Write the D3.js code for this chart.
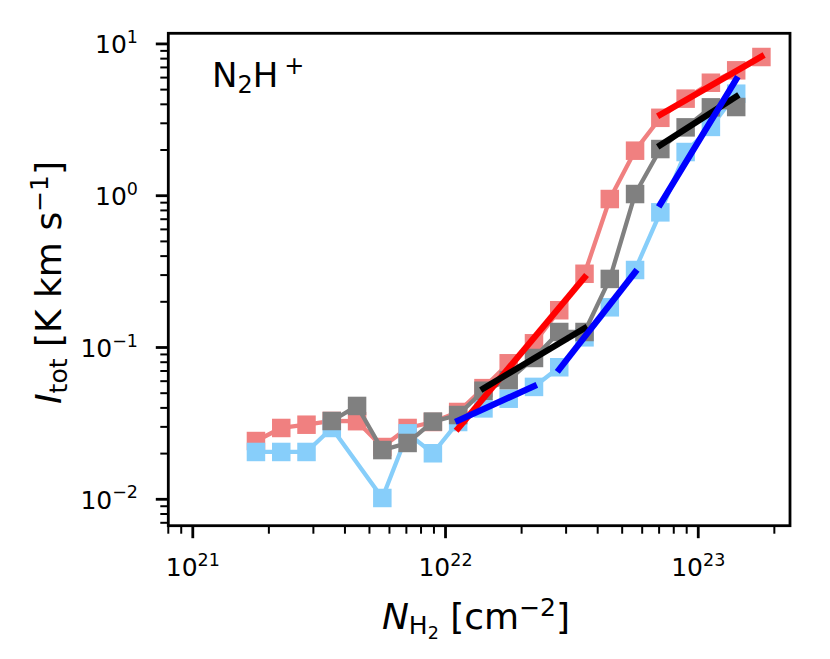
<!DOCTYPE html>
<html>
<head>
<meta charset="utf-8">
<script src="https://cdn.jsdelivr.net/npm/d3@7"></script>
<style>
  body { margin: 0; background: #fff; }
  text { font-family: "DejaVu Sans", sans-serif; fill: #000; }
</style>
</head>
<body>
<svg id="chart" width="830" height="659"></svg>
<script>
// column density bins [cm^-2]
var nH2 = [1.778e21, 2.239e21, 2.818e21, 3.548e21, 4.467e21, 5.623e21, 7.079e21,
           8.913e21, 1.122e22, 1.413e22, 1.778e22, 2.239e22, 2.818e22, 3.548e22,
           4.467e22, 5.623e22, 7.079e22, 8.913e22, 1.122e23, 1.413e23, 1.778e23];

// integrated intensity [K km/s], null = no point in that bin
var iRed = [0.0242, 0.0295, 0.031, 0.0328, 0.0327, 0.0221, 0.0295, 0.0323, 0.0376,
            0.054, 0.0787, 0.1066, 0.176, 0.306, 0.951, 1.98, 3.26, 4.36, 5.55, 6.70, 8.20];
var iGray = [null, null, null, 0.0328, 0.0412, 0.0211, 0.0235, 0.0325, 0.0359,
             0.0519, 0.061, 0.0853, 0.1265, 0.1265, 0.283, 1.026, 2.03, 2.82, 3.82, 3.84];
var iBlue = [0.0205, 0.0205, 0.0205, 0.0295, null, 0.0102, 0.0272, 0.0201, 0.0323,
             0.0397, 0.046, 0.055, 0.0741, 0.1167, 0.184, 0.324, 0.777, 1.94, 2.84, 4.70];

// power-law fits, end points [N, I]
var fitRed = [[[1.122e22, 0.0293], [3.548e22, 0.290]],
              [[7.079e22, 3.42], [1.778e23, 8.26]]];
var fitBlack = [[[1.413e22, 0.0537], [3.548e22, 0.134]],
                [[7.079e22, 2.15], [1.413e23, 4.50]]];
var fitBlue = [[[1.122e22, 0.0330], [2.239e22, 0.0556]],
               [[2.818e22, 0.0718], [5.623e22, 0.313]],
               [[7.079e22, 0.880], [1.413e23, 5.85]]];

var xMajor = [1e21, 1e22, 1e23];
var xExp = ["21", "22", "23"];
var yMajor = [1e-2, 1e-1, 1, 10];
var yExp = ["\u22122", "\u22121", "0", "1"];

var svg = d3.select("#chart");
var m = { left: 168.3, right: 790, top: 33.3, bottom: 525.7 };

var x = d3.scaleLog().domain([8e20, Math.pow(10, 23.363)]).range([m.left, m.right]);
var y = d3.scaleLog().domain([Math.pow(10, -2.174), Math.pow(10, 1.07)]).range([m.bottom, m.top]);

// minor tick positions
function minors(scale) {
    var d = scale.domain(), out = [];
    for (var e = Math.floor(Math.log10(d[0])); e <= Math.ceil(Math.log10(d[1])); e++) {
        for (var k = 2; k < 10; k++) {
            var v = k * Math.pow(10, e);
            if (v >= d[0] && v <= d[1]) out.push(v);
        }
    }
    return out;
}

var tickCol = "#000";
// x ticks
var xt = svg.append("g");
xt.selectAll("line.minor").data(minors(x)).enter().append("line")
    .attr("x1", function (d) { return x(d) }).attr("x2", function (d) { return x(d) })
    .attr("y1", m.bottom).attr("y2", m.bottom + 8)
    .attr("stroke", tickCol).attr("stroke-width", 2);
xt.selectAll("line.major").data(xMajor).enter().append("line")
    .attr("x1", function (d) { return x(d) }).attr("x2", function (d) { return x(d) })
    .attr("y1", m.bottom).attr("y2", m.bottom + 12.5)
    .attr("stroke", tickCol).attr("stroke-width", 2.8);
xt.selectAll("text").data(xMajor).enter().append("text")
    .attr("x", function (d) { return x(d) })
    .attr("y", 576)
    .attr("text-anchor", "middle")
    .style("font-size", "25px")
    .each(function (d, i) {
        var t = d3.select(this);
        t.append("tspan").text("10");
        t.append("tspan").attr("dy", -10.5).style("font-size", "17.5px").text(xExp[i]);
    });

// y ticks
var yt = svg.append("g");
yt.selectAll("line.minor").data(minors(y)).enter().append("line")
    .attr("y1", function (d) { return y(d) }).attr("y2", function (d) { return y(d) })
    .attr("x1", m.left).attr("x2", m.left - 8)
    .attr("stroke", tickCol).attr("stroke-width", 2);
yt.selectAll("line.major").data(yMajor).enter().append("line")
    .attr("y1", function (d) { return y(d) }).attr("y2", function (d) { return y(d) })
    .attr("x1", m.left).attr("x2", m.left - 12.5)
    .attr("stroke", tickCol).attr("stroke-width", 2.8);
yt.selectAll("text").data(yMajor).enter().append("text")
    .attr("x", 138)
    .attr("y", function (d) { return y(d) + 9.5 })
    .attr("text-anchor", "end")
    .style("font-size", "25px")
    .each(function (d, i) {
        var t = d3.select(this);
        t.append("tspan").text("10");
        t.append("tspan").attr("dy", -10.5).style("font-size", "17.5px").text(yExp[i]);
    });

// series: line + square markers
var line = d3.line().x(function (d) { return x(d[0]) }).y(function (d) { return y(d[1]) });
function series(vals, color) {
    var pts = [];
    vals.forEach(function (v, i) { if (v != null) pts.push([nH2[i], v]) });
    var g = svg.append("g");
    g.append("path").datum(pts).attr("d", line)
        .attr("fill", "none").attr("stroke", color).attr("stroke-width", 4.3)
        .attr("stroke-linejoin", "round");
    var s = 18.5;
    g.selectAll("rect").data(pts).enter().append("rect")
        .attr("x", function (d) { return x(d[0]) - s / 2 })
        .attr("y", function (d) { return y(d[1]) - s / 2 })
        .attr("width", s).attr("height", s)
        .attr("fill", color);
}
series(iRed, "#f08080");
series(iBlue, "#87cefa");
series(iGray, "#808080");

function fits(segs, color) {
    svg.append("g").selectAll("path").data(segs).enter().append("path")
        .attr("d", line)
        .attr("fill", "none").attr("stroke", color).attr("stroke-width", 6.3)
        .attr("stroke-linecap", "square");
}
fits(fitRed, "#ff0000");
fits(fitBlack, "#000000");
fits(fitBlue, "#0000ff");

// frame
svg.append("rect")
    .attr("x", m.left).attr("y", m.top)
    .attr("width", m.right - m.left).attr("height", m.bottom - m.top)
    .attr("fill", "none").attr("stroke", "#000").attr("stroke-width", 2.8);

// molecule label
var lab = svg.append("text").attr("x", 212).attr("y", 87).style("font-size", "34px");
lab.append("tspan").text("N");
lab.append("tspan").attr("dy", 6).style("font-size", "24px").text("2");
lab.append("tspan").attr("dy", -6).text("H");
lab.append("tspan").attr("dx", 6).attr("dy", -13).style("font-size", "24px").text("+");

// x axis label
var xl = svg.append("text").attr("x", 476).attr("y", 629)
    .attr("text-anchor", "middle").style("font-size", "36px");
xl.append("tspan").style("font-style", "italic").text("N");
xl.append("tspan").attr("dy", 5).style("font-size", "25px").text("H");
xl.append("tspan").attr("dy", 5).style("font-size", "17.5px").text("2");
xl.append("tspan").attr("dy", -10).text(" [cm");
xl.append("tspan").attr("dy", -13).style("font-size", "25px").text("\u22122");
xl.append("tspan").attr("dy", 13).text("]");

// y axis label
var yl = svg.append("text")
    .attr("transform", "translate(61," + ((m.top + m.bottom) / 2 + 3) + ") rotate(-90)")
    .attr("text-anchor", "middle").style("font-size", "36px");
yl.append("tspan").style("font-style", "italic").text("I");
yl.append("tspan").attr("dy", 6).style("font-size", "25px").text("tot");
yl.append("tspan").attr("dy", -6).text(" [K km s");
yl.append("tspan").attr("dy", -13).style("font-size", "25px").text("\u22121");
yl.append("tspan").attr("dy", 13).text("]");
</script>
</body>
</html>
